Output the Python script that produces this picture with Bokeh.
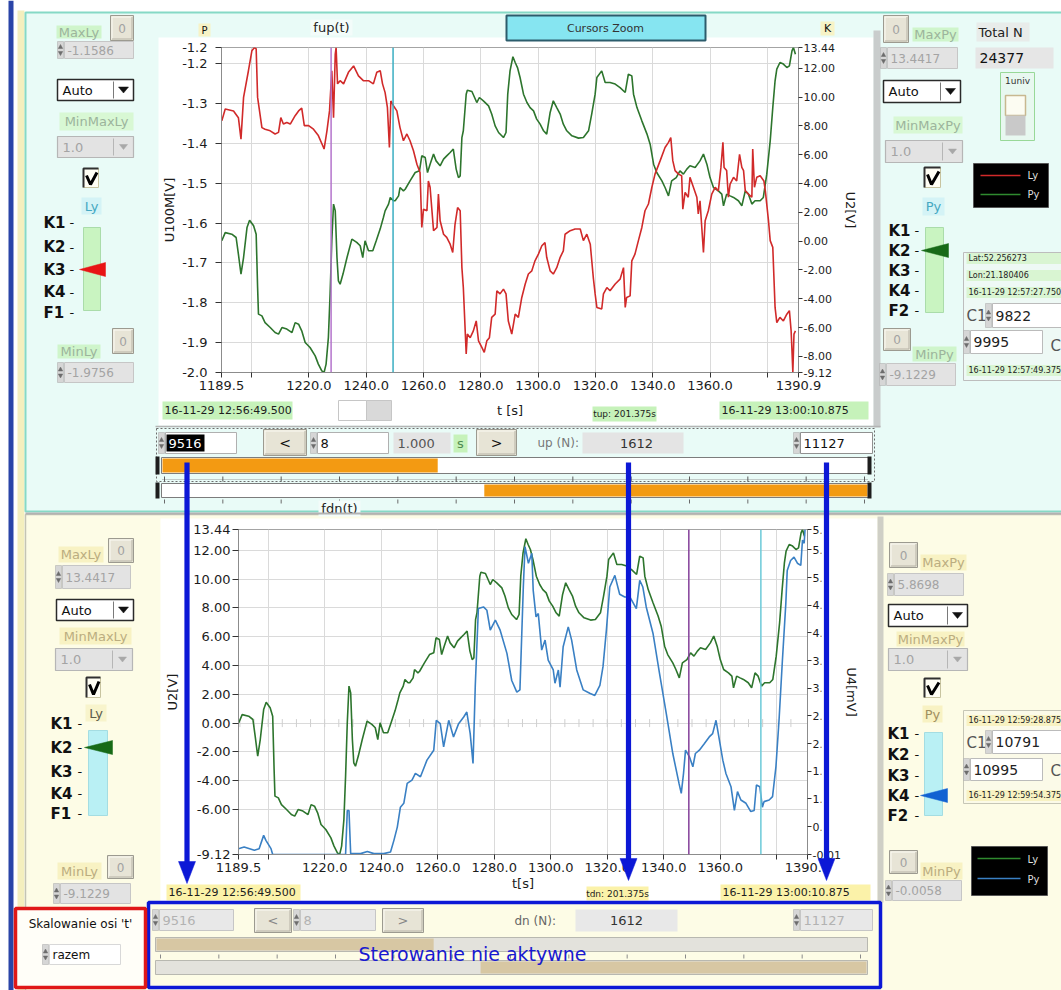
import datetime as dt
import numpy as np
from bokeh.plotting import figure
from bokeh.layouts import column
from bokeh.models import Range1d, LinearAxis, FixedTicker, Span
from bokeh.core.properties import value
from bokeh.embed import file_html
from bokeh.resources import INLINE

# ---------------------------------------------------------------- data
N_START, N_END, N_TOTAL = 9516, 11127, 24377      # sample window / record length
FS = 8.0                                          # samples per second
T_START = 1189.5                                  # [s]
STAMP0 = dt.datetime(2016, 11, 29, 12, 56, 49, 500000)
CURSORS_UP = [9822, 9995]
CURSORS_DN = [10791, 10995]
LAT, LON = 52.256273, 21.180406
STEP_N = 8
STEP_S = 1.000

# U100M [V]  (Ly, upper graph)
t_u100m = [1189.6, 1190.8, 1193.7, 1195.4, 1196.3, 1197.2, 1198.9, 1200.1, 1201.0, 1201.6,
           1202.1, 1203.6, 1204.7, 1206.5, 1208.2, 1209.4, 1210.2, 1211.1, 1212.3, 1213.5,
           1215.2, 1216.4, 1217.5, 1218.4, 1219.9, 1221.6, 1223.3, 1225.1, 1225.3, 1226.3,
           1227.2, 1228.0, 1228.6, 1229.2, 1229.5, 1230.0, 1230.9, 1232.1, 1233.8, 1235.6,
           1237.3, 1239.0, 1240.8, 1242.5, 1243.7, 1244.9, 1245.7, 1246.6, 1247.4, 1248.1,
           1248.6, 1249.5, 1250.7, 1251.8, 1253.0, 1254.2, 1255.3, 1256.5, 1257.7, 1258.8,
           1259.4, 1260.0, 1261.2, 1261.7, 1262.3, 1263.5, 1264.7, 1265.2, 1265.8, 1267.0,
           1268.1, 1269.3, 1270.2, 1271.0, 1271.9, 1272.8, 1273.4, 1273.9, 1274.9, 1275.3,
           1276.3, 1277.4, 1278.4, 1279.2, 1280.4, 1281.2, 1282.1, 1283.0, 1283.8, 1285.0,
           1285.6, 1286.7, 1287.9, 1288.8, 1289.6, 1290.8, 1292.0, 1293.1, 1294.3, 1295.5,
           1296.6, 1297.8, 1298.9, 1300.1, 1301.3, 1302.4, 1303.0, 1304.2, 1305.3, 1306.5,
           1307.7, 1308.8, 1309.4, 1311.2, 1312.9, 1314.7, 1315.8, 1317.0, 1318.2, 1319.3,
           1319.9, 1320.5, 1322.2, 1322.8, 1324.0, 1325.1, 1326.9, 1328.6, 1329.8, 1330.4,
           1330.9, 1332.1, 1332.7, 1333.8, 1335.0, 1336.2, 1337.3, 1338.5, 1339.7, 1340.8,
           1342.6, 1344.3, 1345.5, 1346.3, 1347.0, 1347.8, 1349.0, 1350.1, 1350.5, 1351.3,
           1352.4, 1353.0, 1354.2, 1355.4, 1355.9, 1356.5, 1357.7, 1358.3, 1359.4, 1360.6,
           1361.8, 1362.9, 1363.8, 1364.5, 1364.9, 1365.8, 1366.4, 1367.0, 1368.2, 1369.3,
           1370.3, 1371.1, 1371.7, 1372.3, 1373.4, 1374.6, 1374.9, 1375.5, 1376.3, 1377.5,
           1378.8, 1379.3, 1380.4, 1381.0, 1381.9, 1382.7, 1383.3, 1384.4, 1385.6, 1386.8,
           1387.7, 1388.3, 1388.6, 1388.9, 1389.3, 1389.8]
u100m = [-1.343, -1.313, -1.318, -1.335, -1.389, -1.284, -1.217, -1.167, -1.1586, -1.162,
         -1.284, -1.360, -1.364, -1.368, -1.376, -1.372, -1.335, -1.351, -1.347, -1.351,
         -1.330, -1.318, -1.311, -1.355, -1.355, -1.364, -1.380, -1.410, -1.414, -1.368,
         -1.318, -1.217, -1.335, -1.175, -1.159, -1.250, -1.242, -1.250, -1.221, -1.205,
         -1.230, -1.242, -1.242, -1.250, -1.221, -1.217, -1.250, -1.272, -1.309, -1.410,
         -1.293, -1.305, -1.318, -1.360, -1.393, -1.376, -1.393, -1.418, -1.452, -1.473,
         -1.611, -1.565, -1.569, -1.494, -1.510, -1.619, -1.611, -1.527, -1.594, -1.628,
         -1.636, -1.653, -1.674, -1.603, -1.561, -1.569, -1.712, -1.762, -1.929, -1.879,
         -1.888, -1.871, -1.846, -1.896, -1.913, -1.925, -1.896, -1.888, -1.837, -1.829,
         -1.770, -1.778, -1.766, -1.778, -1.846, -1.879, -1.829, -1.837, -1.787, -1.753,
         -1.728, -1.720, -1.695, -1.678, -1.657, -1.649, -1.686, -1.720, -1.728, -1.712,
         -1.686, -1.670, -1.628, -1.619, -1.615, -1.615, -1.644, -1.628, -1.653, -1.740,
         -1.778, -1.812, -1.816, -1.778, -1.762, -1.770, -1.753, -1.741, -1.712, -1.812,
         -1.787, -1.783, -1.695, -1.678, -1.644, -1.611, -1.569, -1.552, -1.510, -1.477,
         -1.443, -1.410, -1.397, -1.385, -1.443, -1.468, -1.477, -1.481, -1.565, -1.523,
         -1.535, -1.485, -1.510, -1.535, -1.577, -1.544, -1.674, -1.594, -1.569, -1.527,
         -1.510, -1.519, -1.460, -1.397, -1.460, -1.468, -1.535, -1.502, -1.485, -1.494,
         -1.427, -1.460, -1.468, -1.519, -1.527, -1.535, -1.414, -1.510, -1.485, -1.481,
         -1.494, -1.519, -1.594, -1.644, -1.661, -1.812, -1.850, -1.837, -1.846, -1.829,
         -1.820, -1.871, -1.921, -1.9756, -1.879, -1.871]

# U2 [V]  (Py on the upper graph, Ly on the lower graph)
t_u2 = [1189.6, 1190.8, 1193.1, 1194.6, 1195.4, 1196.3, 1197.2, 1198.4, 1199.3, 1200.7,
        1201.6, 1202.1, 1202.4, 1203.6, 1204.7, 1206.5, 1208.2, 1209.4, 1210.6, 1212.3,
        1214.1, 1215.2, 1216.4, 1217.5, 1218.7, 1220.4, 1222.2, 1223.3, 1224.5, 1225.3,
        1226.0, 1226.8, 1227.4, 1228.0, 1228.6, 1229.2, 1229.8, 1230.3, 1230.9, 1231.9,
        1233.3, 1235.0, 1236.7, 1237.9, 1238.8, 1239.6, 1240.8, 1242.3, 1243.5, 1244.9,
        1246.0, 1246.6, 1247.8, 1248.4, 1249.5, 1250.1, 1251.3, 1251.8, 1253.0, 1253.6,
        1255.3, 1257.1, 1258.6, 1259.4, 1260.6, 1261.4, 1262.3, 1263.5, 1264.4, 1265.8,
        1267.0, 1268.1, 1269.3, 1270.4, 1271.4, 1272.2, 1272.8, 1273.4, 1273.9, 1274.9,
        1275.3, 1276.9, 1278.6, 1279.5, 1280.9, 1282.7, 1283.8, 1285.0, 1286.2, 1287.9,
        1288.8, 1289.4, 1290.2, 1291.2, 1292.0, 1292.8, 1293.7, 1294.9, 1296.1, 1297.2,
        1298.4, 1299.5, 1300.7, 1301.9, 1303.0, 1304.2, 1305.3, 1306.5, 1307.7, 1308.8,
        1310.0, 1311.8, 1314.1, 1315.8, 1317.6, 1318.7, 1319.9, 1320.5, 1322.2, 1323.4,
        1325.1, 1326.9, 1328.6, 1330.4, 1331.5, 1332.7, 1333.3, 1334.5, 1336.2, 1338.0,
        1339.1, 1340.3, 1341.4, 1343.2, 1344.3, 1345.5, 1346.6, 1348.2, 1349.5, 1350.7,
        1351.9, 1353.0, 1354.8, 1356.5, 1357.7, 1358.9, 1360.0, 1361.2, 1362.9, 1364.1,
        1364.7, 1365.8, 1367.0, 1368.2, 1369.9, 1371.1, 1372.3, 1373.4, 1374.6, 1375.7,
        1377.5, 1378.6, 1379.8, 1381.0, 1381.9, 1382.7, 1383.3, 1384.4, 1385.6, 1386.8,
        1387.7, 1388.6, 1389.1, 1389.8]
u2 = [0.02, 0.59, 0.48, 0.25, -0.91, -2.30, -1.14, 0.94, 1.45, 1.06,
      0.48, -3.22, -5.07, -5.19, -5.66, -6.00, -6.35, -6.46, -6.00, -6.11,
      -6.35, -5.66, -5.77, -6.23, -7.04, -7.39, -7.97, -8.54, -9.01, -9.1229,
      -8.54, -6.70, -3.68, 0.02, 2.57, 2.10, -1.14, -2.76, -2.99, -2.29,
      -1.14, 0.14, -0.09, -0.32, -1.14, 0.02, -0.67, -0.67, 0.02, 0.85,
      1.64, 2.10, 2.57, 3.03, 2.80, 2.80, 3.14, 3.72, 3.49, 3.60,
      4.18, 4.76, 4.88, 5.92, 5.80, 4.76, 5.34, 6.04, 5.57, 5.23,
      5.69, 5.92, 6.15, 6.39, 5.00, 4.41, 4.53, 7.19, 7.66, 10.20,
      10.48, 10.39, 9.62, 9.97, 9.74, 9.39, 8.82, 8.00, 7.54, 7.19,
      7.54, 10.20, 11.82, 12.80, 12.40, 12.05, 11.36, 10.20, 9.62, 9.27,
      9.04, 8.47, 8.12, 7.66, 7.43, 8.93, 9.74, 9.27, 8.82, 8.12,
      7.66, 7.31, 7.15, 7.19, 7.66, 8.82, 10.20, 11.36, 11.82, 11.01,
      11.01, 10.90, 10.66, 10.32, 11.59, 11.47, 10.20, 9.27, 8.35, 7.43,
      6.73, 5.34, 4.76, 4.18, 3.72, 3.14, 4.18, 4.41, 4.88, 4.65,
      5.00, 5.23, 5.11, 5.57, 6.04, 5.34, 4.41, 3.72, 3.49, 3.26,
      2.45, 3.26, 3.14, 3.03, 2.80, 2.45, 3.49, 3.26, 2.57, 2.80,
      2.80, 3.03, 4.65, 6.96, 9.27, 11.13, 11.94, 12.40, 12.29, 12.05,
      12.17, 13.21, 13.4417, 12.98]

# U4 [mV]  (Py, lower graph)
t_u4 = [1189.5, 1191.5, 1195.1, 1196.8, 1198.4, 1199.2, 1201.0, 1201.6, 1227.4, 1228.0,
        1228.6, 1229.2, 1232.7, 1235.1, 1237.4, 1240.9, 1243.3, 1244.5, 1245.7, 1246.8,
        1248.0, 1249.2, 1250.9, 1252.1, 1253.9, 1256.2, 1258.6, 1259.5, 1260.9, 1262.1,
        1263.9, 1265.6, 1267.4, 1269.2, 1270.3, 1271.5, 1272.5, 1273.3, 1274.4, 1276.2,
        1277.4, 1278.6, 1280.4, 1282.1, 1284.5, 1286.2, 1288.0, 1289.1, 1290.3, 1290.9,
        1292.1, 1293.3, 1293.8, 1294.8, 1295.6, 1296.8, 1298.0, 1299.1, 1300.9, 1301.5,
        1302.7, 1303.3, 1304.4, 1306.2, 1307.4, 1309.2, 1311.5, 1313.8, 1315.6, 1317.4,
        1318.5, 1319.7, 1320.9, 1322.7, 1324.4, 1326.2, 1328.0, 1330.3, 1331.5, 1332.6,
        1333.8, 1336.2, 1338.5, 1340.9, 1343.2, 1345.4, 1346.2, 1347.0, 1347.7, 1349.1,
        1350.3, 1351.2, 1352.6, 1354.4, 1356.1, 1357.3, 1358.5, 1359.7, 1360.9, 1362.0,
        1363.8, 1365.0, 1366.1, 1367.3, 1369.1, 1370.8, 1372.0, 1372.8, 1374.0, 1374.9,
        1375.5, 1377.3, 1378.5, 1379.7, 1380.8, 1382.0, 1383.2, 1383.7, 1384.9, 1386.1,
        1387.3, 1388.5, 1389.1, 1389.7, 1390.0]
u4 = [0.10, 0.13, 0.07, 0.10, 0.34, 0.25, 0.10, -0.0058, -0.0058, 0.79,
      0.79, 0.01, 0.01, 0.05, 0.01, 0.01, 0.04, 0.25, 0.49, 0.85,
      0.92, 1.28, 1.34, 1.46, 1.40, 1.70, 1.88, 2.42, 2.36, 1.94,
      2.42, 2.12, 2.36, 2.48, 2.57, 2.18, 1.64, 3.05, 4.44, 4.47,
      4.41, 4.05, 4.23, 4.05, 3.63, 3.14, 2.93, 2.97, 4.83, 5.56,
      5.26, 5.44, 4.77, 4.29, 4.35, 3.69, 3.87, 3.51, 3.33, 3.09,
      3.33, 3.02, 3.75, 4.11, 3.87, 3.33, 2.97, 2.91, 2.87, 3.05,
      3.39, 4.05, 4.83, 5.04, 4.70, 4.65, 4.65, 4.44, 4.95, 4.83,
      4.47, 3.99, 3.27, 2.54, 1.82, 1.28, 1.10, 1.46, 1.88, 1.76,
      1.58, 1.82, 1.88, 2.00, 2.12, 2.18, 2.42, 2.06, 1.70, 1.46,
      1.22, 0.79, 1.13, 0.98, 0.92, 0.77, 0.79, 1.25, 1.22, 0.85,
      0.95, 0.98, 1.04, 1.58, 2.42, 3.51, 4.53, 5.13, 5.31, 5.37,
      5.26, 5.22, 5.68, 5.62, 5.8698]

# tick values between the range ends
X_TICKS = [1200, 1220, 1240, 1260, 1280, 1300, 1320, 1340, 1360, 1380]
X_TICKS_UNLABELLED = [1200, 1380]
U100M_TICKS = [-1.9, -1.8, -1.7, -1.6, -1.5, -1.4, -1.3, -1.2]
U2_TICKS_UP = [-8, -6, -4, -2, 0, 2, 4, 6, 8, 10, 12]
U2_TICKS_DN = [-6, -4, -2, 0, 2, 4, 6, 8, 10, 12]
U4_TICKS = [0.5, 1.0, 1.5, 2.0, 2.5, 3.0, 3.5, 4.0, 4.5, 5.0, 5.5]

# ---------------------------------------------------------------- derived values
T_END = T_START + (N_END - N_START) / FS
SPAN_S = (N_END - N_START) / FS
N_COUNT = N_END - N_START + 1


def t_of(n):
    return T_START + (n - N_START) / FS


def stamp(n):
    s = (STAMP0 + dt.timedelta(seconds=(n - N_START) / FS)).strftime("%y-%m-%d %H:%M:%S.%f")
    return s[:-3]


W, H = 1061, 990
FONT = "DejaVu Sans"

CY, CY_EDGE = "#e9fbf7", "#86d9c6"
YE = "#fdfce6"
GRN_BG, GRN_FG = "#cff5cb", "#9cb49c"
YLW_BG, YLW_FG = "#f8f2c3", "#bbad80"
DIS_BG, DIS_FG = "#e3e3e3", "#a4a4a4"
ORANGE = "#f39a12"
TAN = "#d7c7a3"
ARROW = "#0c18d6"
RED, GREEN, BLUE = "#d12a2a", "#2d752d", "#3a80c4"
STACKED = {"position": "absolute", "left": "0px", "top": "0px"}


# ---------------------------------------------------------------- drawing helpers
def canvas(fill=None):
    f = figure(width=W, height=H, x_range=Range1d(0, W), y_range=Range1d(H, 0),
               output_backend="svg", toolbar_location=None, min_border=0,
               x_axis_location=None, y_axis_location=None, frame_align=False,
               background_fill_color=fill, border_fill_color=None, outline_line_color=None)
    f.grid.visible = False
    return f


def box(f, x0, y0, x1, y1, fill=None, line=None, lw=1.0, dash="solid"):
    f.quad(left=[x0], right=[x1], top=[y0], bottom=[y1], fill_color=fill,
           line_color=line, line_width=lw, line_dash=dash)


def seg(f, xs, ys, color, lw=1.0, dash="solid"):
    f.line(xs, ys, line_color=color, line_width=lw, line_dash=dash)


def tri(f, pts, color):
    f.patch([q[0] for q in pts], [q[1] for q in pts], fill_color=color, line_color=color, line_width=0.5)


def txt(f, x, y, s, size=13, color="#111111", bold=False, align="left", font=FONT):
    f.text(x=[x], y=[y], text=[s], text_font=value(font), text_font_size=f"{size}px",
           text_color=color, text_font_style="bold" if bold else "normal",
           text_align=align, text_baseline="middle")


def spinner(f, x, y0, y1, color="#6c6c6c"):
    box(f, x, y0, x + 6, y1, fill="#d6d6d6", line="#a8a8a8", lw=0.5)
    ym = (y0 + y1) / 2
    tri(f, [(x + 0.8, ym - 1.5), (x + 5.2, ym - 1.5), (x + 3, ym - 5.5)], color)
    tri(f, [(x + 0.8, ym + 1.5), (x + 5.2, ym + 1.5), (x + 3, ym + 5.5)], color)


def field(f, x0, y0, x1, y1, s, bg=DIS_BG, fg=DIS_FG, size=12, edge="#c6c6c6", spin=True, center=False):
    if spin:
        spinner(f, x0 - 7, y0, y1)
    box(f, x0, y0, x1, y1, fill=bg, line=edge)
    if center:
        txt(f, (x0 + x1) / 2, (y0 + y1) / 2, s, size, fg, align="center")
    else:
        txt(f, x0 + 3, (y0 + y1) / 2, s, size, fg)


def button(f, x0, y0, x1, y1, s, fg="#a2a2a2", size=12):
    box(f, x0, y0, x1, y1, fill="#e7e4d6", line="#9c9a90")
    seg(f, [x0 + 1.5, x0 + 1.5, x1 - 1.5], [y1 - 1.5, y0 + 1.5, y0 + 1.5], "#fbfaf3")
    seg(f, [x0 + 1.5, x1 - 1.5, x1 - 1.5], [y1 - 1.5, y1 - 1.5, y0 + 1.5], "#b6b3a6")
    txt(f, (x0 + x1) / 2, (y0 + y1) / 2, s, size, fg, align="center")


def dropdown(f, x0, y0, x1, y1, s, enabled=True):
    ym = (y0 + y1) / 2
    if enabled:
        box(f, x0, y0, x1, y1, fill="white", line="#2a2a2a", lw=1.5)
        seg(f, [x1 - 20, x1 - 20], [y0 + 2, y1 - 2], "#7a7a7a")
        tri(f, [(x1 - 15, ym - 3), (x1 - 5, ym - 3), (x1 - 10, ym + 3)], "#111111")
        txt(f, x0 + 5, ym, s, 13, "#111111")
    else:
        box(f, x0, y0, x1, y1, fill=DIS_BG, line="#b6b6b6", lw=1.2)
        seg(f, [x1 - 20, x1 - 20], [y0 + 2, y1 - 2], "#b6b6b6")
        tri(f, [(x1 - 14, ym - 2.5), (x1 - 6, ym - 2.5), (x1 - 10, ym + 2.5)], "#a8a8a8")
        txt(f, x0 + 5, ym, s, 13, DIS_FG)


def checkbox(f, x0, y0, x1, y1):
    box(f, x0, y0, x1, y1, fill="#fffef4", line="#c8c4a0")
    seg(f, [x0, x0, x1], [y1, y0, y0], "#303030", 2)
    seg(f, [x0 + 3, x0 + 7, x1 - 1.5], [y0 + 7, y1 - 3, y0 + 4], "#000000", 3)


def tag(f, x0, y0, x1, y1, s, bg, fg, size=13, center=True):
    box(f, x0, y0, x1, y1, fill=bg)
    if center:
        txt(f, (x0 + x1) / 2, (y0 + y1) / 2, s, size, fg, align="center")
    else:
        txt(f, x0 + 2, (y0 + y1) / 2, s, size, fg)


def k_scale(f, xk, xd, ys, names, track, track_fill, track_edge, sel, pcolor):
    box(f, track[0], track[1], track[2], track[3], fill=track_fill, line=track_edge)
    for y, nm in zip(ys, names):
        txt(f, xk, y, nm, 15, "#111111", bold=True)
        txt(f, xd, y, "-", 13, "#111111")
    yp = ys[sel]
    tri(f, [(track[0] - 4, yp), (track[2] + 5, yp - 7), (track[2] + 5, yp + 7)], pcolor)


# ---------------------------------------------------------------- panel background
g = canvas()
box(g, 0, 0, W, H, fill="white")
box(g, 8, 0, 13, H, fill="#2a44a8")
box(g, 17, 10, 24, H, fill="#f4efbe")
box(g, 25, 12, W + 5, 511, fill=CY, line=CY_EDGE, lw=2)
box(g, 25, 514, W + 5, H + 5, fill=YE, line="#c4c4b4", lw=1.5)

# graph areas
box(g, 158, 37, 873, 425, fill="white")
box(g, 873, 30, 880, 427, fill="#c9cccc")
seg(g, [155, 880], [426, 426], "#b4b4b4", 1.5)
box(g, 160, 518, 877, 902, fill="white")
box(g, 877, 516, 883, 902, fill="#cfcfc6")

# ---- upper graph header and footer
tag(g, 198, 23, 210, 36, "P", "#f7f3c6", "#111111", 10)
tag(g, 310, 19, 352, 35, "fup(t)", "#f3fcfa", "#222222", 13)
box(g, 506, 15, 705, 40, fill="#86e5f1", line="#2c5c6c", lw=2)
txt(g, 605, 28, "Cursors Zoom", 11, "#333333", align="center")
tag(g, 820, 21, 834, 35, "K", "#f7f3c6", "#111111", 11)

tag(g, 162, 401, 292, 419, stamp(N_START), "#c6f2ba", "#1d1d1d", 11, center=False)
box(g, 338, 400, 366, 420, fill="white", line="#c6c6c6")
box(g, 366, 400, 391, 420, fill="#d9d9d9", line="#c6c6c6")
tag(g, 592, 406, 656, 421, f"tup: {SPAN_S:.3f}s", "#c6f2ba", "#1d1d1d", 9)
tag(g, 719, 401, 868, 419, stamp(N_END), "#c6f2ba", "#1d1d1d", 11, center=False)

# ---- upper window controls
box(g, 156, 428, 874, 481, line="#6c6c6c", dash="2 2")
spinner(g, 158, 432, 453)
box(g, 165, 432, 236, 453, fill="white", line="#b0b0b0")
box(g, 166, 434, 204, 451, fill="black")
txt(g, 168, 442.5, f"{N_START}", 13, "white")
button(g, 263, 429, 306, 455, "<", "#111111", 14)
field(g, 317, 432, 388, 453, f"{STEP_N}", bg="white", fg="#111111", size=13, edge="#b0b0b0")
box(g, 393, 432, 450, 453, fill="#e4e4e4")
txt(g, 397, 442.5, f"{STEP_S:.3f}", 13, "#555555")
tag(g, 453, 434, 467, 452, "s", "#c6f2ba", "#4f8a4f", 13)
button(g, 476, 429, 516, 455, ">", "#111111", 14)
txt(g, 537, 442.5, "up (N):", 12, "#777777")
box(g, 582, 432, 683, 453, fill="#e4e4e4")
txt(g, 636, 442.5, f"{N_COUNT}", 13, "#333333", align="center")
field(g, 800, 432, 872, 453, f"{N_END}", bg="white", fg="#111111", size=13, edge="#909090")

SL0, SL1 = 162, 867


def sx(n):
    return SL0 + (SL1 - SL0) * n / N_TOTAL


box(g, 161, 457, 868, 473, fill="white", line="#7c7c7c")
box(g, SL0, 458, sx(N_START), 472, fill=ORANGE)
box(g, 161, 483, 868, 497, fill="white", line="#7c7c7c")
box(g, sx(N_END), 484, SL1, 496, fill=ORANGE)
for xc in (157, 869):
    box(g, xc - 2, 456, xc + 2, 474, fill="#1e1e1e")
    box(g, xc - 2, 482, xc + 2, 498, fill="#1e1e1e")
seg(g, [162, 867], [479, 479], "#9a9a9a", 1, "1 1")
ticks_sl = np.linspace(164, 864, 13)
for xt in ticks_sl:
    seg(g, [xt, xt], [476, 481], "#5a5a5a", 1)
    seg(g, [xt, xt], [499, 503], "#6a6a6a", 1)
tag(g, 318, 500, 360, 516, "fdn(t)", "#f3fcfa", "#222222", 13)
seg(g, [25, W], [513, 513], "#b2b2b2", 2)

# ---- upper left panel (Ly)
tag(g, 56, 25, 101, 38, "MaxLy", GRN_BG, GRN_FG)
button(g, 110, 15, 133, 40, "0")
field(g, 64, 41, 133, 58, f"{max(u100m):.4f}")
dropdown(g, 57, 79, 133, 100, "Auto")
tag(g, 59, 112, 133, 130, "MinMaxLy", "#d8f8d4", GRN_FG)
dropdown(g, 57, 136, 133, 157, "1.0", enabled=False)
checkbox(g, 83, 168, 98, 187)
tag(g, 81, 197, 101, 214, "Ly", "#d4f3f6", "#45a8c2")
k_scale(g, 43, 69, [222, 246.5, 269, 291.5, 312], ["K1", "K2", "K3", "K4", "F1"],
        (83, 227, 100, 310), "#c9f4c1", "#aadcaa", 2, "#e81414")
button(g, 112, 328, 133, 353, "0")
tag(g, 57, 344, 100, 358, "MinLy", GRN_BG, GRN_FG)
field(g, 64, 362, 133, 382, f"{min(u100m):.4f}")

# ---- upper right panel (Py)
button(g, 883, 15, 908, 42, "0")
tag(g, 912, 27, 958, 41, "MaxPy", GRN_BG, GRN_FG)
field(g, 887, 47, 957, 68, f"{max(u2):.4f}")
dropdown(g, 883, 80, 960, 102, "Auto")
tag(g, 893, 116, 962, 133, "MinMaxPy", "#d8f8d4", GRN_FG)
dropdown(g, 885, 140, 962, 162, "1.0", enabled=False)
checkbox(g, 924, 167, 940, 187)
tag(g, 922, 197, 944, 215, "Py", "#d4f3f6", "#45a8c2")
k_scale(g, 888, 914, [230, 250, 270, 290, 310], ["K1", "K2", "K3", "K4", "F2"],
        (925, 227, 943, 312), "#c9f4c1", "#aadcaa", 1, "#176a17")
button(g, 883, 328, 910, 350, "0")
tag(g, 912, 346, 956, 361, "MinPy", GRN_BG, GRN_FG)
field(g, 886, 363, 955, 385, f"{min(u2):.4f}")

tag(g, 976, 22, 1029, 41, "Total N", "#e8ecea", "#222222", 13, center=False)
box(g, 975, 47, 1053, 68, fill="#e6e6e6")
txt(g, 979, 57.5, f"{N_TOTAL}", 14, "#111111")
box(g, 1000, 72, 1034, 140, fill="#e8f8f0", line="#98d898")
txt(g, 1017, 80, "1univ", 9, "#333333", align="center")
box(g, 1005, 95, 1025, 115, fill="#fcfcf2", line="#c8b890", lw=1.5)
box(g, 1005, 115, 1025, 135, fill="#c9c9c9")
box(g, 973, 163, 1048, 207, fill="black", line="#555555")
seg(g, [980, 1020], [175, 175], RED, 1.5)
txt(g, 1027, 175, "Ly", 10, "#dddddd")
seg(g, [980, 1020], [194, 194], "#2f8a2f", 1.5)
txt(g, 1027, 194, "Py", 10, "#dddddd")

box(g, 963, 252, 1065, 380, fill="#eef9f5", line="#bdbdbd")
for yy, s in [(258, f"Lat:{LAT:.6f}"), (275, f"Lon:{LON:.6f}"), (292, stamp(CURSORS_UP[0]))]:
    box(g, 966, yy - 5.5, 1061, yy + 5.5, fill="#d9f5d2")
    txt(g, 968, yy, s, 8, "#222222")
txt(g, 966, 315, "C1", 15, "#555555")
field(g, 992, 303, 1065, 327, f"{CURSORS_UP[0]}", bg="white", fg="#222222", size=14, edge="#bbbbbb")
field(g, 970, 330, 1042, 353, f"{CURSORS_UP[1]}", bg="white", fg="#222222", size=14, edge="#bbbbbb")
txt(g, 1050, 345, "C", 15, "#555555")
box(g, 966, 364.5, 1061, 375.5, fill="#d9f5d2")
txt(g, 968, 370, stamp(CURSORS_UP[1]), 8, "#222222")

# ---- lower graph footer
tag(g, 166, 884, 300, 900, stamp(N_START), "#fbf2a9", "#1d1d1d", 11, center=False)
tag(g, 586, 886, 648, 900, f"tdn: {SPAN_S:.3f}s", "#fbf2a9", "#1d1d1d", 9)
tag(g, 720, 884, 870, 900, stamp(N_END), "#fbf2a9", "#1d1d1d", 11, center=False)

# ---- lower left panel (Ly)
tag(g, 58, 546, 103, 562, "MaxLy", YLW_BG, YLW_FG)
button(g, 108, 538, 133, 562, "0")
field(g, 62, 565, 130, 588, f"{max(u2):.4f}")
dropdown(g, 56, 599, 133, 620, "Auto")
tag(g, 59, 627, 131, 644, "MinMaxLy", YLW_BG, YLW_FG)
dropdown(g, 55, 648, 132, 670, "1.0", enabled=False)
checkbox(g, 86, 677, 100, 697)
tag(g, 85, 704, 106, 721, "Ly", "#f8f4cc", "#5c5c4c")
k_scale(g, 50, 77, [723, 747, 771, 793, 813], ["K1", "K2", "K3", "K4", "F1"],
        (88, 730, 107, 815), "#b9f0f4", "#a4dde2", 1, "#176a17")
button(g, 107, 855, 133, 878, "0")
tag(g, 57, 862, 101, 879, "MinLy", YLW_BG, YLW_FG)
field(g, 60, 883, 130, 903, f"{min(u2):.4f}")

# ---- lower right panel (Py)
button(g, 889, 542, 917, 567, "0")
tag(g, 920, 554, 966, 570, "MaxPy", YLW_BG, YLW_FG)
field(g, 894, 573, 963, 595, f"{max(u4):.4f}")
dropdown(g, 888, 604, 967, 626, "Auto")
tag(g, 896, 631, 964, 646, "MinMaxPy", YLW_BG, YLW_FG)
dropdown(g, 888, 648, 967, 670, "1.0", enabled=False)
checkbox(g, 924, 678, 940, 697)
tag(g, 922, 705, 942, 722, "Py", YLW_BG, "#a09060")
k_scale(g, 887, 914, [733, 754, 775, 795, 815], ["K1", "K2", "K3", "K4", "F2"],
        (924, 732, 942, 815), "#b9f0f4", "#a4dde2", 3, "#1262d2")
box(g, 963, 710, 1065, 803, fill="#fbfae8", line="#c6c6b6")
box(g, 966, 714.5, 1061, 725.5, fill="#f8f2c2")
txt(g, 968, 720, stamp(CURSORS_DN[0]), 8, "#222222")
txt(g, 966, 742, "C1", 15, "#555555")
field(g, 992, 730, 1065, 753, f"{CURSORS_DN[0]}", bg="white", fg="#222222", size=14, edge="#bbbbbb")
field(g, 970, 758, 1042, 780, f"{CURSORS_DN[1]}", bg="white", fg="#222222", size=14, edge="#bbbbbb")
txt(g, 1050, 770, "C", 15, "#555555")
box(g, 966, 789.5, 1061, 800.5, fill="#f8f2c2")
txt(g, 968, 795, stamp(CURSORS_DN[1]), 8, "#222222")
button(g, 889, 850, 917, 873, "0")
tag(g, 920, 862, 962, 879, "MinPy", YLW_BG, YLW_FG)
field(g, 892, 880, 961, 900, f"{min(u4):.4f}")
box(g, 971, 846, 1047, 895, fill="black", line="#555555")
seg(g, [977, 1020], [858, 858], "#2f8a2f", 1.5)
txt(g, 1027, 859, "Ly", 10, "#dddddd")
seg(g, [977, 1020], [878, 878], BLUE, 1.5)
txt(g, 1027, 879, "Py", 10, "#dddddd")

# ---- lower window controls (inactive)
field(g, 159, 909, 233, 930, f"{N_START}", bg="#e8e8e8", fg="#b2b2b2", size=13)
button(g, 254, 908, 291, 932, "<", "#888888", 13)
field(g, 300, 909, 375, 930, f"{STEP_N}", bg="#e8e8e8", fg="#b2b2b2", size=13)
button(g, 382, 908, 423, 932, ">", "#888888", 13)
txt(g, 514, 920, "dn (N):", 12, "#666666")
box(g, 575, 909, 677, 931, fill="#e8e8e8")
txt(g, 626, 920, f"{N_COUNT}", 13, "#333333", align="center")
field(g, 800, 909, 872, 930, f"{N_END}", bg="#e8e8e8", fg="#b2b2b2", size=13)

SD0, SD1 = 156, 866


def sxd(n):
    return SD0 + (SD1 - SD0) * n / N_TOTAL


box(g, 155, 937, 867, 951, fill="#e3e2dc", line="#b8b8b0")
box(g, SD0, 938, sxd(N_START), 950, fill=TAN)
box(g, 155, 960, 867, 974, fill="#e3e2dc", line="#b8b8b0")
box(g, sxd(N_END), 961, SD1, 973, fill=TAN)
for xt in np.linspace(160, 860, 13):
    seg(g, [xt, xt], [954, 958], "#8a8a8a", 1)
txt(g, 472, 953, "Sterowanie nie aktywne", 19, "#1a1ad0", align="center")
box(g, 148, 902, 880, 987, line=ARROW, lw=3.5)

box(g, 15, 908, 145, 987, fill="#fffef8", line="#e01818", lw=3.5)
txt(g, 80, 923, "Skalowanie osi 't'", 12, "#111111", align="center")
field(g, 49, 944, 120, 964, "razem", bg="white", fg="#111111", size=12, edge="#d8d8d8")


# ---------------------------------------------------------------- graphs
def tick_set(lo, hi, mid, fmt, hidden=()):
    vals = [float(lo)] + [float(v) for v in mid] + [float(hi)]
    labels = {v: ("" if v in hidden else fmt.format(v)) for v in vals}
    return vals, labels


def style_axis(ax, size, tick_out, standoff, label, label_standoff):
    ax.axis_line_color = "#8c8c8c"
    ax.major_tick_line_color = "#333333"
    ax.major_tick_out = tick_out
    ax.major_tick_in = 0
    ax.minor_tick_line_color = None
    ax.major_label_text_font = FONT
    ax.major_label_text_font_size = f"{size}px"
    ax.major_label_text_color = "#1c1c1c"
    ax.major_label_standoff = standoff
    ax.axis_label = label
    ax.axis_label_text_font = FONT
    ax.axis_label_text_font_size = "13px"
    ax.axis_label_text_font_style = "normal"
    ax.axis_label_text_color = "#1c1c1c"
    ax.axis_label_standoff = label_standoff


def graph(left, top, fw, yl, yr, yl_ticks, yr_ticks, yl_fmt, yr_fmt, labels, axis_geo, xlabel):
    p = figure(width=W, height=H, frame_width=fw, frame_height=325,
               x_range=Range1d(T_START, T_END), y_range=Range1d(*yl),
               output_backend="svg", toolbar_location=None, frame_align=False,
               min_border_left=left, min_border_top=top,
               min_border_right=W - left - fw, min_border_bottom=H - top - 325,
               background_fill_color="white", border_fill_color=None,
               outline_line_color="#a4a4a4")
    p.extra_y_ranges = {"r": Range1d(*yr)}

    xv, xl = tick_set(T_START, T_END, X_TICKS, "{:.1f}", hidden=X_TICKS_UNLABELLED)
    xt = FixedTicker(ticks=xv)
    p.xaxis.ticker = xt
    p.xgrid.ticker = xt
    p.xaxis.major_label_overrides = xl
    style_axis(p.xaxis[0], 13, 5, 3, xlabel, axis_geo[0])

    lv, ll = tick_set(yl[0], yl[1], yl_ticks, yl_fmt)
    lt = FixedTicker(ticks=lv)
    p.yaxis.ticker = lt
    p.ygrid.ticker = lt
    p.yaxis.major_label_overrides = ll
    style_axis(p.yaxis[0], 13, 6, axis_geo[1], labels[0], axis_geo[2])

    rv, rl = tick_set(yr[0], yr[1], yr_ticks, yr_fmt)
    ra = LinearAxis(y_range_name="r", ticker=FixedTicker(ticks=rv), major_label_overrides=rl)
    style_axis(ra, 11, 4, 1, labels[1], axis_geo[3])
    p.add_layout(ra, "right")

    p.xgrid.grid_line_color = "#dadada"
    p.ygrid.grid_line_color = "#dadada"
    return p


up = graph(221, 47, 577, (min(u100m), max(u100m)), (min(u2), max(u2)),
           U100M_TICKS, U2_TICKS_UP, "{:.1f}", "{:.2f}", ("U100M[V]", "U2[V]"),
           (10, 8, 2, 5), "t [s]")
up.line(t_u2, u2, y_range_name="r", line_color=GREEN, line_width=1.6)
up.line(t_u100m, u100m, line_color=RED, line_width=1.6)
up.add_layout(Span(location=t_of(CURSORS_UP[0]), dimension="height", line_color="#b474cc", line_width=1.5))
up.add_layout(Span(location=t_of(CURSORS_UP[1]), dimension="height", line_color="#3aaec2", line_width=1.5))

dn = graph(238, 529, 569, (min(u2), max(u2)), (min(u4), max(u4)),
           U2_TICKS_DN, U4_TICKS, "{:.2f}", "{:.2f}", ("U2[V]", "U4[mV]"),
           (1, 2, 10, 0), "t[s]")
zero_marks = np.arange(1190, 1390, 5)
dn.scatter(zero_marks, [0.0] * len(zero_marks), marker="dash", angle=np.pi / 2, size=8,
           line_color="#cfcfcf", line_width=1)
dn.line(t_u2, u2, line_color=GREEN, line_width=1.6)
dn.line(t_u4, u4, y_range_name="r", line_color=BLUE, line_width=1.6)
dn.add_layout(Span(location=t_of(CURSORS_DN[0]), dimension="height", line_color="#84409a", line_width=1.5))
dn.add_layout(Span(location=t_of(CURSORS_DN[1]), dimension="height", line_color="#6ccad8", line_width=1.5))

# ---------------------------------------------------------------- arrows on top
ov = canvas()
box(ov, 821, 522, 838, 846, fill="white")
for xa, tip in [(186.5, 883), (628, 880), (826, 880)]:
    box(ov, xa - 2.6, 462, xa + 2.6, tip - 20, fill=ARROW)
    tri(ov, [(xa - 8.5, tip - 22), (xa + 8.5, tip - 22), (xa, tip)], ARROW)

# all four canvases share the same origin and are stacked on top of each other
for f in (g, up, dn, ov):
    f.styles = dict(STACKED)
root = column(g, up, dn, ov, width=W, height=H, sizing_mode="fixed",
              styles={"position": "relative", "width": f"{W}px", "height": f"{H}px"})
open("out.html", "w").write(file_html(root, INLINE))
